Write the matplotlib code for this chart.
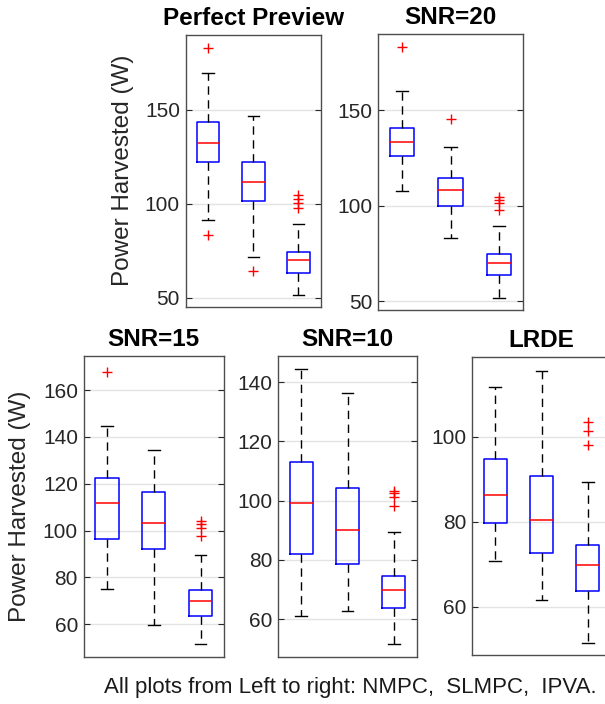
import matplotlib
matplotlib.use("Agg")
import matplotlib.pyplot as plt

plt.rcParams['font.family'] = ['Liberation Sans', 'DejaVu Sans']

methods = ["NMPC", "SLMPC", "IPVA"]
titles = ["Perfect Preview", "SNR=20", "SNR=15", "SNR=10", "LRDE"]

# per panel: [whislo, q1, med, q3, whishi] for each method, plus outliers
pp_stats = [[91.3, 121.9, 132.2, 143.3, 169.6],
            [71.6, 101.6, 111.5, 122.3, 146.6],
            [51.4, 63.4, 70.0, 74.4, 89.2]]
pp_fliers = [[182.9, 83.2], [64.5], [104.6, 102.5, 100.2, 97.5]]

snr20_stats = [[107.5, 126.2, 133.2, 140.9, 159.8],
               [82.9, 100.0, 108.2, 114.3, 130.9],
               [51.7, 63.6, 69.9, 74.5, 89.5]]
snr20_fliers = [[183.0], [145.3], [104.7, 103.0, 101.2, 97.7]]

snr15_stats = [[75.1, 96.3, 111.9, 122.5, 144.7],
               [59.6, 92.0, 103.4, 116.7, 134.5],
               [51.6, 63.5, 69.8, 74.5, 89.5]]
snr15_fliers = [[167.8], [], [104.2, 102.8, 101.1, 97.9]]

snr10_stats = [[61.2, 81.9, 99.3, 113.1, 144.3],
               [62.6, 78.5, 90.0, 104.4, 136.4],
               [51.7, 63.7, 69.9, 74.5, 89.4]]
snr10_fliers = [[], [], [103.4, 102.6, 101.2, 98.1]]

lrde_stats = [[70.7, 79.6, 86.3, 94.8, 111.6],
              [61.6, 72.7, 80.5, 90.7, 115.4],
              [51.6, 63.7, 69.8, 74.5, 89.4]]
lrde_fliers = [[], [], [103.4, 101.3, 98.1]]

all_stats = [pp_stats, snr20_stats, snr15_stats, snr10_stats, lrde_stats]
all_fliers = [pp_fliers, snr20_fliers, snr15_fliers, snr10_fliers, lrde_fliers]

ylims = [(45.2, 189.8), (45.3, 189.9), (46.0, 174.8), (47.2, 148.8), (48.7, 118.7)]
yticks = [[50, 100, 150], [50, 100, 150], [60, 80, 100, 120, 140, 160],
          [60, 80, 100, 120, 140], [60, 80, 100]]

caption = "All plots from Left to right: NMPC,  SLMPC,  IPVA."
ylabel = "Power Harvested (W)"

W, H = 605, 704
# axes rectangles in pixels: left, top, right, bottom
rects = [(185.5, 34.5, 321, 307),
         (378, 34, 523, 310),
         (83.5, 355.5, 224, 657),
         (278, 356, 417, 657),
         (472, 357, 611, 655)]

fig = plt.figure(figsize=(W / 100, H / 100), dpi=100)
dark = '#262626'

for i in range(5):
    l, t, r, b = rects[i]
    ax = fig.add_axes([l / W, 1 - b / H, (r - l) / W, (b - t) / H])
    bstats = []
    for j in range(3):
        lo, q1, med, q3, hi = all_stats[i][j]
        bstats.append(dict(whislo=lo, q1=q1, med=med, q3=q3, whishi=hi,
                           fliers=all_fliers[i][j], label=methods[j]))
    ax.bxp(bstats, positions=[1, 2, 3], widths=0.5, capwidths=0.25,
           boxprops=dict(color='blue', linewidth=1.1),
           medianprops=dict(color='red', linewidth=1.1),
           whiskerprops=dict(color='black', linewidth=1.0, linestyle=(0, (6, 4))),
           capprops=dict(color='black', linewidth=1.0),
           flierprops=dict(marker='+', markeredgecolor='red', markersize=7.5,
                           markeredgewidth=1.0, linestyle='none'))
    ax.set_xlim(0.5, 3.5)
    ax.set_ylim(*ylims[i])
    ax.set_yticks(yticks[i])
    ax.set_xticks([])
    ax.yaxis.grid(True, color='#e3e3e3', linewidth=1.0)
    ax.set_axisbelow(True)
    ax.tick_params(axis='y', direction='in', length=4, width=0.8, color=dark,
                   labelsize=15, labelcolor=dark, left=True, right=True, pad=4)
    for s in ax.spines.values():
        s.set_color('#4d4d4d')
        s.set_linewidth(1.0)
    ax.set_title(titles[i], fontsize=17.5, fontweight='bold', pad=7)
    if i in (0, 2):
        cx = 122.5 if i == 0 else 20.5
        cy = (t + b) / 2
        fig.text(cx / W, 1 - cy / H, ylabel, rotation=90, ha='center', va='center',
                 fontsize=17.5, color=dark)

fig.text(350 / W, 1 - 688 / H, caption, ha='center', va='center', fontsize=16, color='#1a1a1a')

fig.savefig("out.png", dpi=100)
